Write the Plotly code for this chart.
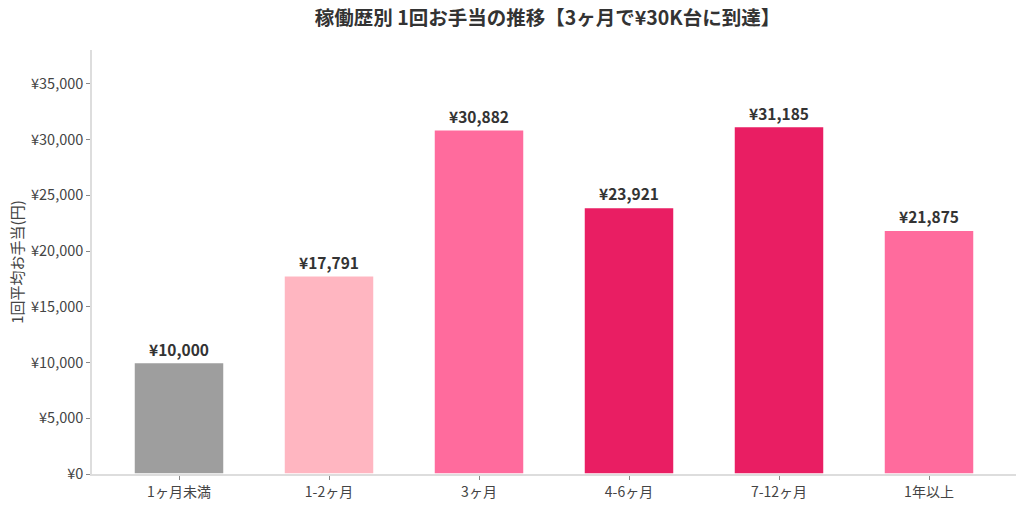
import plotly.graph_objects as go

# 稼働歴別 1回平均お手当
categories = ['1ヶ月未満', '1-2ヶ月', '3ヶ月', '4-6ヶ月', '7-12ヶ月', '1年以上']
avg_fee = [10000, 17791, 30882, 23921, 31185, 21875]
bar_colors = ['#9E9E9E', '#FFB6C1', '#FF6B9D', '#E91E63', '#E91E63', '#FF6B9D']
tick_vals = [0, 5000, 10000, 15000, 20000, 25000, 30000, 35000]
tick_text = ['¥0', '¥5,000', '¥10,000', '¥15,000', '¥20,000', '¥25,000', '¥30,000', '¥35,000']

fig = go.Figure(go.Bar(
    x=categories, y=avg_fee,
    width=0.6,
    marker=dict(color=bar_colors, line=dict(color='white', width=1.5)),
    text=['¥{:,}'.format(v) for v in avg_fee],
    textposition='outside',
    textfont=dict(size=15.5, color='#333333', family='Noto Sans CJK JP', weight='bold'),
    cliponaxis=False,
))

fig.update_layout(
    title=dict(text='<b>稼働歴別 1回お手当の推移【3ヶ月で¥30K台に到達】</b>',
               x=0.493, xref='paper', y=1 - 18 / 507, yref='container',
               xanchor='center', yanchor='middle',
               font=dict(size=19.5, color='#333333')),
    font=dict(family='Noto Sans CJK JP', size=14, color='#444444'),
    plot_bgcolor='white', paper_bgcolor='white',
    width=1024, height=507,
    margin=dict(l=92, r=8, t=50, b=33),
    showlegend=False,
)
fig.update_xaxes(showline=True, linecolor='#DDDDDD', linewidth=1.5, automargin=False,
                 range=[-0.58, 5.58],
                 ticks='outside', ticklen=4, tickcolor='#888888', showgrid=False)
fig.update_yaxes(title=dict(text='1回平均お手当(円)', font=dict(size=15, color='#444444'), standoff=4),
                 range=[0, 38050], tickvals=tick_vals, ticktext=tick_text, automargin=False,
                 tickfont=dict(size=14.5),
                 showline=True, linecolor='#DDDDDD', linewidth=1.5,
                 ticks='outside', ticklen=4, tickcolor='#888888', showgrid=False, zeroline=False)

# ページ余白を消して 1024x507 にぴったり合わせる
fig.write_html('out.html', config={'displayModeBar': False},
               post_script="document.body.style.margin='0';")
